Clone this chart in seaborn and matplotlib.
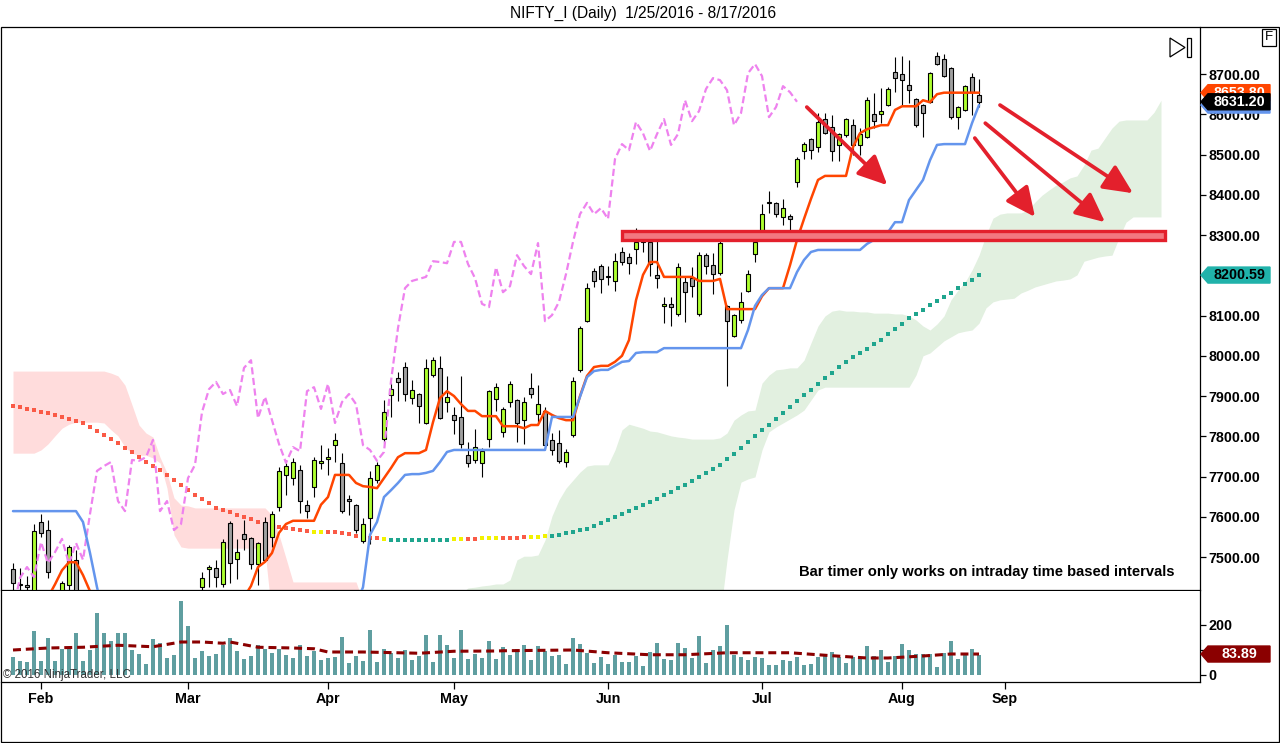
import matplotlib
matplotlib.use("Agg")
import numpy as np
import matplotlib.pyplot as plt
from matplotlib.patches import Polygon, Rectangle, ArrowStyle
from matplotlib.transforms import blended_transform_factory
import seaborn as sns

W, H = 1280, 743
X0_PX, BAR_PX = 13, 7          # pixel of bar 0 and pixel spacing of bars

TITLE = "NIFTY_I (Daily)  1/25/2016 - 8/17/2016"

# daily bars, bar 0 = 1/25/2016 ... bar 138 = 8/17/2016
opens = [7470, 7432, 7430, 7400, 7587, 7567, 7400, 7360, 7430, 7493,
         7390, 7290, 7180, 6960, 7040, 7170, 7050, 7140, 7180, 7230,
         7240, 7100, 7030, 6990, 7000, 7040, 7250, 7425, 7470, 7473,
         7433, 7584, 7495, 7557, 7547, 7483, 7587, 7550, 7624, 7704,
         7696, 7716, 7629, 7674, 7734, 7743, 7778, 7734, 7644, 7629,
         7540, 7597, 7691, 7793, 7902, 7945, 7972, 7895, 7905, 7833,
         7952, 7970, 7885, 7853, 7848, 7753, 7741, 7734, 7793, 7893,
         7811, 7885, 7890, 7840, 7920, 7855, 7863, 7791, 7783, 7736,
         7803, 7965, 8086, 8211, 8223, 8198, 8186, 8258, 8245, 8265,
         8288, 8283, 8201, 8124, 8129, 8104, 8183, 8193, 8104, 8250,
         8225, 8206, 8124, 8049, 8089, 8161, 8253, 8307, 8382, 8380,
         8345, 8347, 8432, 8509, 8538, 8519, 8588, 8568, 8524, 8548,
         8573, 8524, 8543, 8601, 8601, 8623, 8705, 8700, 8673, 8638,
         8623, 8630, 8745, 8737, 8715, 8593, 8611, 8693, 8648]
highs = [7485, 7472, 7453, 7582, 7607, 7592, 7412, 7440, 7530, 7517,
         7400, 7310, 7190, 7010, 7175, 7200, 7120, 7210, 7230, 7270,
         7250, 7110, 7060, 7040, 7120, 7235, 7380, 7463, 7480, 7493,
         7545, 7590, 7545, 7592, 7550, 7537, 7600, 7614, 7724, 7734,
         7746, 7729, 7642, 7748, 7778, 7771, 7808, 7758, 7654, 7632,
         7597, 7714, 7736, 7890, 7932, 7960, 7984, 7940, 7907, 7992,
         7997, 7999, 7950, 7873, 7950, 7786, 7818, 7771, 7915, 7932,
         7873, 7937, 7892, 7898, 7957, 7927, 7873, 7808, 7816, 7768,
         7947, 8074, 8181, 8218, 8228, 8223, 8255, 8270, 8255, 8317,
         8293, 8293, 8298, 8146, 8146, 8230, 8196, 8220, 8258, 8255,
         8255, 8305, 8126, 8104, 8158, 8213, 8307, 8377, 8409, 8382,
         8389, 8352, 8494, 8531, 8540, 8603, 8603, 8598, 8553, 8590,
         8588, 8566, 8643, 8653, 8665, 8668, 8742, 8745, 8735, 8640,
         8625, 8705, 8755, 8750, 8717, 8620, 8672, 8702, 8688]
lows = [7410, 7405, 7410, 7395, 7550, 7448, 7340, 7350, 7405, 7380,
        7280, 7180, 6960, 6870, 7030, 7030, 6990, 7130, 7150, 7200,
        7100, 6960, 6950, 6940, 6825, 7020, 7240, 7400, 7425, 7425,
        7425, 7435, 7445, 7517, 7470, 7430, 7490, 7525, 7614, 7654,
        7679, 7609, 7597, 7649, 7719, 7704, 7736, 7609, 7604, 7560,
        7535, 7532, 7684, 7783, 7848, 7888, 7888, 7880, 7833, 7830,
        7947, 7843, 7860, 7806, 7771, 7724, 7734, 7699, 7773, 7863,
        7798, 7873, 7786, 7781, 7895, 7833, 7778, 7753, 7734, 7724,
        7798, 7960, 8084, 8171, 8156, 8176, 8161, 8225, 8203, 8228,
        8258, 8198, 8168, 8081, 8074, 8100, 8084, 8146, 8100, 8203,
        8153, 8200, 7925, 8047, 8081, 8158, 8233, 8305, 8355, 8345,
        8325, 8295, 8419, 8489, 8489, 8506, 8550, 8484, 8484, 8543,
        8499, 8499, 8540, 8566, 8578, 8620, 8655, 8623, 8628, 8568,
        8543, 8628, 8722, 8693, 8588, 8563, 8608, 8598, 8618]
closes = [7435, 7430, 7425, 7565, 7560, 7463, 7362, 7435, 7525, 7390,
          7298, 7215, 6976, 6980, 7162, 7048, 7108, 7191, 7210, 7234,
          7109, 7018, 6971, 6970, 6987, 7222, 7368, 7448, 7475, 7450,
          7537, 7485, 7512, 7545, 7483, 7535, 7493, 7607, 7714, 7726,
          7736, 7639, 7614, 7741, 7739, 7748, 7791, 7614, 7639, 7567,
          7582, 7696, 7729, 7860, 7917, 7935, 7905, 7915, 7875, 7970,
          7989, 7845, 7898, 7840, 7781, 7734, 7773, 7763, 7912, 7922,
          7868, 7930, 7833, 7885, 7905, 7880, 7778, 7766, 7739, 7761,
          7937, 8069, 8168, 8186, 8191, 8196, 8235, 8233, 8230, 8283,
          8283, 8228, 8193, 8129, 8121, 8220, 8158, 8173, 8250, 8223,
          8203, 8280, 8086, 8101, 8134, 8203, 8283, 8352, 8380, 8352,
          8367, 8340, 8489, 8526, 8511, 8581, 8553, 8509, 8551, 8588,
          8524, 8551, 8635, 8583, 8608, 8663, 8690, 8685, 8660, 8573,
          8603, 8702, 8725, 8695, 8593, 8618, 8670, 8655, 8631.2]
volumes = [72, 56, 52, 176, 56, 148, 56, 104, 104, 168,
           56, 100, 248, 168, 136, 168, 168, 100, 84, 44,
           144, 128, 68, 80, 296, 196, 68, 96, 76, 84,
           120, 148, 96, 64, 76, 120, 104, 88, 104, 80,
           68, 120, 76, 96, 60, 68, 72, 152, 48, 76,
           56, 180, 52, 104, 88, 68, 100, 60, 76, 160,
           52, 160, 120, 68, 180, 64, 84, 68, 136, 64,
           112, 80, 104, 120, 60, 116, 96, 76, 80, 44,
           148, 124, 88, 48, 72, 44, 80, 52, 52, 76,
           36, 92, 128, 64, 60, 128, 108, 68, 156, 48,
           100, 116, 200, 80, 72, 60, 72, 68, 40, 40,
           60, 56, 72, 40, 44, 72, 80, 92, 72, 48,
           72, 64, 116, 76, 100, 52, 76, 124, 100, 84,
           84, 84, 32, 88, 136, 64, 88, 104, 80]

tenkan = [7380, 7380, 7380, 7390, 7395, 7400, 7432, 7467, 7487, 7487,
          7455, 7415, 7330, 7250, 7200, 7150, 7110, 7090, 7090, 7090,
          7100, 7100, 7100, 7050, 7030, 7030, 7100, 7150, 7240, 7300,
          7330, 7360, 7380, 7400, 7428, 7475, 7488, 7510, 7560, 7582,
          7590, 7590, 7590, 7590, 7630, 7649, 7704, 7704, 7704, 7684,
          7676, 7674, 7671, 7696, 7721, 7748, 7758, 7758, 7758, 7766,
          7835, 7895, 7912, 7900, 7880, 7863, 7863, 7850, 7850, 7850,
          7825, 7825, 7825, 7820, 7828, 7828, 7863, 7853, 7845, 7840,
          7840, 7900, 7950, 7972, 7975, 7975, 7985, 8000, 8039, 8138,
          8201, 8233, 8233, 8196, 8196, 8196, 8196, 8196, 8186, 8186,
          8186, 8191, 8116, 8116, 8116, 8116, 8116, 8148, 8168, 8168,
          8168, 8225, 8288, 8340, 8390, 8437, 8447, 8447, 8447, 8447,
          8519, 8553, 8563, 8568, 8573, 8573, 8611, 8620, 8620, 8620,
          8635, 8630, 8650, 8653.8, 8653.8, 8653.8, 8653.8, 8653.8, 8653.8]
kijun = [7614, 7614, 7614, 7614, 7614, 7614, 7614, 7614, 7614, 7614,
         7587, 7510, 7425, 7350, 7280, 7230, 7215, 7215, 7215, 7215,
         7215, 7215, 7200, 7190, 7190, 7190, 7190, 7190, 7190, 7190,
         7190, 7210, 7215, 7215, 7215, 7230, 7250, 7250, 7250, 7250,
         7260, 7275, 7275, 7275, 7280, 7300, 7300, 7320, 7350, 7380,
         7425, 7555, 7587, 7649, 7666, 7684, 7704, 7706, 7706, 7709,
         7714, 7736, 7761, 7766, 7766, 7766, 7766, 7766, 7766, 7766,
         7766, 7766, 7766, 7766, 7766, 7766, 7766, 7848, 7848, 7848,
         7848, 7898, 7947, 7962, 7965, 7965, 7975, 7985, 7987, 8007,
         8009, 8009, 8009, 8019, 8019, 8019, 8019, 8019, 8019, 8019,
         8019, 8019, 8019, 8019, 8019, 8064, 8124, 8151, 8168, 8168,
         8168, 8168, 8208, 8238, 8258, 8263, 8263, 8263, 8263, 8263,
         8263, 8263, 8278, 8288, 8288, 8307, 8332, 8332, 8387, 8412,
         8437, 8486, 8524, 8526, 8526, 8526, 8526, 8578, 8623]

# slow trend average, dotted and coloured by slope
trend_ma = [7876, 7872, 7868, 7865, 7861, 7857, 7852, 7847, 7842, 7838,
            7833, 7823, 7813, 7803, 7793, 7783, 7771, 7760, 7748, 7737,
            7726, 7715, 7704, 7692, 7679, 7667, 7654, 7643, 7633, 7622,
            7616, 7611, 7605, 7600, 7594, 7588, 7582, 7579, 7575, 7572,
            7570, 7567, 7565, 7562, 7562, 7561, 7561, 7560, 7557, 7553,
            7550, 7548, 7546, 7544, 7542, 7542, 7542, 7542, 7542, 7542,
            7542, 7543, 7543, 7544, 7544, 7545, 7545, 7546, 7546, 7547,
            7547, 7548, 7548, 7549, 7549, 7550, 7552, 7553, 7555, 7559,
            7563, 7566, 7570, 7577, 7585, 7592, 7600, 7607, 7615, 7622,
            7630, 7637, 7645, 7654, 7662, 7671, 7679, 7689, 7699, 7709,
            7719, 7729, 7743, 7757, 7772, 7786, 7800, 7815, 7829, 7844,
            7858, 7873, 7887, 7902, 7916, 7931, 7945, 7958, 7971, 7984,
            7997, 8008, 8018, 8029, 8039, 8053, 8067, 8080, 8094, 8104,
            8115, 8125, 8136, 8146, 8157, 8168, 8179, 8189, 8200.59]
trend_runs = [("down", 43), ("flat", 2), ("down", 8), ("flat", 1), ("up", 9),
              ("flat", 2), ("down", 2), ("flat", 3), ("down", 4), ("flat", 3),
              ("up", 62)]

# cloud spans, bar 0 ... bar 164 (26 bars past the last bar)
senkou_a = [7758, 7758, 7758, 7758, 7766, 7781, 7801, 7820, 7830, 7835,
            7835, 7835, 7835, 7833, 7816, 7801, 7773, 7758, 7753, 7753,
            7746, 7734, 7671, 7555, 7525, 7522, 7522, 7522, 7522, 7522,
            7522, 7522, 7522, 7522, 7522, 7522, 7515, 7350, 7350, 7350,
            7350, 7350, 7350, 7350, 7350, 7350, 7350, 7350, 7350, 7350,
            7340, 7340, 7340, 7340, 7340, 7340, 7360, 7360, 7360, 7360,
            7360, 7380, 7390, 7400, 7410, 7423, 7425, 7428, 7430, 7433,
            7433, 7443, 7493, 7502, 7502, 7505, 7542, 7602, 7642, 7671,
            7691, 7711, 7726, 7729, 7729, 7729, 7766, 7816, 7830, 7825,
            7820, 7813, 7811, 7806, 7801, 7798, 7796, 7793, 7793, 7793,
            7793, 7796, 7808, 7840, 7853, 7863, 7865, 7932, 7952, 7965,
            7967, 7970, 7970, 7989, 8032, 8074, 8099, 8111, 8114, 8111,
            8111, 8109, 8109, 8106, 8106, 8106, 8104, 8104, 8099, 8089,
            8074, 8064, 8079, 8099, 8139, 8163, 8183, 8213, 8250, 8300,
            8342, 8352, 8355, 8355, 8355, 8362, 8382, 8399, 8412, 8424,
            8432, 8442, 8447, 8474, 8511, 8516, 8541, 8566, 8583, 8586,
            8586, 8586, 8586, 8605, 8635]
senkou_b = [7962, 7962, 7962, 7962, 7962, 7962, 7962, 7962, 7962, 7962,
            7962, 7962, 7962, 7962, 7957, 7950, 7927, 7878, 7828, 7808,
            7798, 7748, 7709, 7647, 7629, 7627, 7622, 7622, 7622, 7622,
            7622, 7622, 7622, 7622, 7622, 7622, 7622, 7604, 7555, 7497,
            7438, 7438, 7438, 7438, 7438, 7438, 7438, 7438, 7438, 7438,
            7390, 7390, 7390, 7390, 7390, 7390, 7370, 7370, 7370, 7370,
            7370, 7350, 7350, 7350, 7350, 7350, 7350, 7350, 7350, 7350,
            7350, 7350, 7350, 7350, 7350, 7350, 7350, 7350, 7350, 7350,
            7350, 7350, 7350, 7350, 7350, 7350, 7350, 7350, 7350, 7350,
            7350, 7350, 7350, 7350, 7350, 7350, 7350, 7350, 7350, 7350,
            7350, 7350, 7493, 7617, 7686, 7694, 7699, 7766, 7811, 7823,
            7833, 7843, 7853, 7865, 7890, 7915, 7922, 7922, 7922, 7922,
            7922, 7922, 7922, 7922, 7922, 7922, 7922, 7922, 7922, 7952,
            8000, 8007, 8022, 8037, 8047, 8057, 8061, 8064, 8081, 8119,
            8134, 8139, 8141, 8143, 8156, 8163, 8171, 8176, 8181, 8186,
            8188, 8191, 8201, 8235, 8240, 8245, 8248, 8250, 8293, 8332,
            8345, 8345, 8345, 8345, 8345]

# volume moving average (read at these bars)
vol_sma_bar = [0, 5, 10, 15, 20, 24, 27, 30, 31, 35, 40, 43, 45, 50, 55, 58,
               63, 69, 70, 80, 85, 91, 96, 102, 107, 111, 116, 122, 125, 130,
               134, 138]
vol_sma = [100, 108, 111, 119, 113, 132, 132, 127, 132, 111, 108, 105, 92, 92,
           89, 87, 95, 96, 97, 100, 89, 81, 81, 89, 89, 89, 79, 68, 68, 76,
           84, 83.89]

month_pos = [4, 25, 45, 63, 85, 107, 127, 141.7]
month_labels = ["Feb", "Mar", "Apr", "May", "Jun", "Jul", "Aug", "Sep"]
price_ticks = [7500, 7600, 7700, 7800, 7900, 8000, 8100, 8200, 8300, 8400, 8500, 8600, 8700]
hidden_price_labels = [8200]      # covered by the marker tag in the original
vol_ticks = [0, 100, 200]
hidden_vol_labels = [100]

# annotations drawn by the author (bar, price)
band_bars = (87, 164.6)
band_prices = (8288, 8310)
arrows = [((113.4, 8618), (124.9, 8424)),
          ((137.4, 8541), (146.0, 8345)),
          ((138.9, 8578), (156.0, 8332)),
          ((141.0, 8623), (160.0, 8404))]

assert len(opens) == len(highs) == len(lows) == len(closes) == len(volumes) == 139
assert len(tenkan) == len(kijun) == len(trend_ma) == 139
assert len(senkou_a) == len(senkou_b) == 165

sns.set_theme(style="white")
plt.rcParams["font.family"] = ["Liberation Sans", "DejaVu Sans"]

bars = np.arange(len(closes))
cloud_bars = np.arange(len(senkou_a))
o, h, l, c = map(np.array, (opens, highs, lows, closes))
sa, sb = np.array(senkou_a), np.array(senkou_b)

fig = plt.figure(figsize=(W / 100, H / 100), dpi=100)
fig.patch.set_facecolor("white")


def fx(px):
    return px / W


def fy(py):
    return 1 - py / H


ax = fig.add_axes([fx(1), fy(590), fx(1200) - fx(1), fy(27) - fy(590)])
axv = fig.add_axes([fx(1), fy(682), fx(1200) - fx(1), fy(591) - fy(682)])
xlim = ((1 - X0_PX) / BAR_PX, (1200 - X0_PX) / BAR_PX)

# ---------------- price panel ----------------
ax.set_xlim(*xlim)
ax.set_ylim(7418, 8817)

ax.fill_between(cloud_bars, sa, sb, where=sb >= sa, interpolate=True,
                color="#ffdcdc", linewidth=0, zorder=1)
ax.fill_between(cloud_bars, sa, sb, where=sa >= sb, interpolate=True,
                color="#e2f0e0", linewidth=0, zorder=1)

trend_colors = {"down": "#fa5a46", "flat": "#f2f200", "up": "#1fa58e"}
start = 0
for kind, n in trend_runs:
    sl = slice(start, start + n)
    ax.scatter(bars[sl], np.array(trend_ma)[sl], marker="s", s=10,
               color=trend_colors[kind], linewidths=0, zorder=2.5)
    start += n

up = c >= o
ax.vlines(bars, l, h, color="black", linewidth=0.8, zorder=3)
ax.bar(bars, np.abs(c - o), bottom=np.minimum(o, c), width=0.66,
       color=np.where(up, "#adff2f", "#a0a0a0"), edgecolor="black",
       linewidth=0.8, zorder=4)

# lagging span: closes drawn 26 bars back
ax.plot(bars[:-26], c[26:], color="#ee82ee", linewidth=1.6, dashes=(3.2, 1.6), zorder=5)
sns.lineplot(x=bars, y=tenkan, ax=ax, color="#ff4500", linewidth=1.8,
             estimator=None, zorder=6)
sns.lineplot(x=bars, y=kijun, ax=ax, color="#6495ed", linewidth=1.8,
             estimator=None, zorder=6)

ax.add_patch(Rectangle((band_bars[0], band_prices[0]), band_bars[1] - band_bars[0],
                       band_prices[1] - band_prices[0], facecolor="#f27880",
                       edgecolor="#e3202c", linewidth=2.4, zorder=7))
for (x0, y0), (x1, y1) in arrows:
    ax.annotate("", xy=(x1, y1), xytext=(x0, y0),
                arrowprops=dict(arrowstyle=ArrowStyle("-|>", head_length=0.85, head_width=0.4),
                                mutation_scale=21, color="#e3202c", lw=2.7,
                                shrinkA=0, shrinkB=0),
                zorder=8)

ax.text((799 - 1) / 1199, (590 - 572) / 563,
        "Bar timer only works on intraday time based intervals",
        transform=ax.transAxes, ha="left", va="center", fontsize=10.6,
        fontweight="bold", color="black", zorder=9)

ax.set_xticks([])
ax.yaxis.tick_right()
ax.set_yticks(price_ticks)
ax.set_yticklabels(["" if v in hidden_price_labels else f"{v:.2f}" for v in price_ticks])
ax.tick_params(axis="y", right=True, left=False, length=4, width=0.9, pad=2,
               labelsize=10.3, colors="black", direction="out")
for lab in ax.get_yticklabels():
    lab.set_fontweight("bold")
for side in ["left", "top"]:
    ax.spines[side].set_visible(False)
for side in ["right", "bottom"]:
    ax.spines[side].set_color("black")
    ax.spines[side].set_linewidth(0.9)

# ---------------- volume panel ----------------
axv.set_xlim(*xlim)
axv.set_ylim(-28, 336)
axv.bar(bars, volumes, width=0.55, color="#5f9ea0", linewidth=0, zorder=2)
axv.plot(vol_sma_bar, vol_sma, color="#8b0000", linewidth=2.2, dashes=(2.6, 1.6), zorder=3)
axv.yaxis.tick_right()
axv.set_yticks(vol_ticks)
axv.set_yticklabels(["" if v in hidden_vol_labels else str(v) for v in vol_ticks])
axv.tick_params(axis="y", right=True, left=False, length=4, width=0.9, pad=2,
                labelsize=10.3, colors="black", direction="out")
axv.set_xticks(month_pos)
axv.set_xticklabels(month_labels)
axv.tick_params(axis="x", bottom=True, length=5, width=0.9, pad=2,
                labelsize=10.3, colors="black", direction="out")
for lab in axv.get_yticklabels() + axv.get_xticklabels():
    lab.set_fontweight("bold")
for side in ["left", "top"]:
    axv.spines[side].set_visible(False)
for side in ["right", "bottom"]:
    axv.spines[side].set_color("black")
    axv.spines[side].set_linewidth(0.9)


def price_tag(a, value, label, bg, fg, z):
    trans = blended_transform_factory(a.transAxes, a.transData)
    lo, hi = a.get_ylim()
    pos = a.get_position()
    half = 8 * (hi - lo) / (pos.height * H)
    w_px = pos.width * W

    def xf(px):
        return 1 + px / w_px

    a.add_patch(Polygon([(xf(1), value), (xf(8), value + half), (xf(70), value + half),
                         (xf(70), value - half), (xf(8), value - half)],
                        closed=True, transform=trans, facecolor=bg, edgecolor=bg,
                        clip_on=False, zorder=z))
    if label:
        a.text(xf(39), value, label, transform=trans, ha="center", va="center",
               color=fg, fontsize=10.3, fontweight="bold", clip_on=False, zorder=z + 1)


price_tag(ax, tenkan[-1], f"{tenkan[-1]:.2f}", "#ff4500", "white", 20)
price_tag(ax, kijun[-1], "", "#6495ed", "white", 22)
price_tag(ax, closes[-1], f"{closes[-1]:.2f}", "black", "white", 24)
price_tag(ax, trend_ma[-1], f"{trend_ma[-1]:.2f}", "#20b2aa", "black", 26)
price_tag(axv, vol_sma[-1], f"{vol_sma[-1]:.2f}", "#8b0000", "white", 20)

# ---------------- frame, title and chrome ----------------
ov = fig.add_axes([0, 0, 1, 1], zorder=10)
ov.set_xlim(0, W)
ov.set_ylim(H, 0)
ov.axis("off")
ov.patch.set_alpha(0)
ov.add_patch(Rectangle((0.5, 26.5), W - 1.5, H - 27.5, fill=False,
                       edgecolor="black", linewidth=0.9))
ov.text(W / 2 + 3, 13, TITLE, ha="center", va="center", fontsize=11.2, color="black")
ov.add_patch(Rectangle((1262, 29), 14, 17, fill=False, edgecolor="black", linewidth=0.9))
ov.text(1269, 37.5, "F", ha="center", va="center", fontsize=9.5, color="black")
ov.add_patch(Polygon([(1170, 38), (1185, 47.5), (1170, 57)], closed=True, fill=False,
                     edgecolor="black", linewidth=0.9))
ov.add_patch(Rectangle((1187, 38), 4, 19, fill=False, edgecolor="black", linewidth=0.9))
ov.text(3, 675, "\u00a9 2016 NinjaTrader, LLC", ha="left", va="center",
        fontsize=8.3, color="#333333")

fig.savefig("out.png", dpi=100)
